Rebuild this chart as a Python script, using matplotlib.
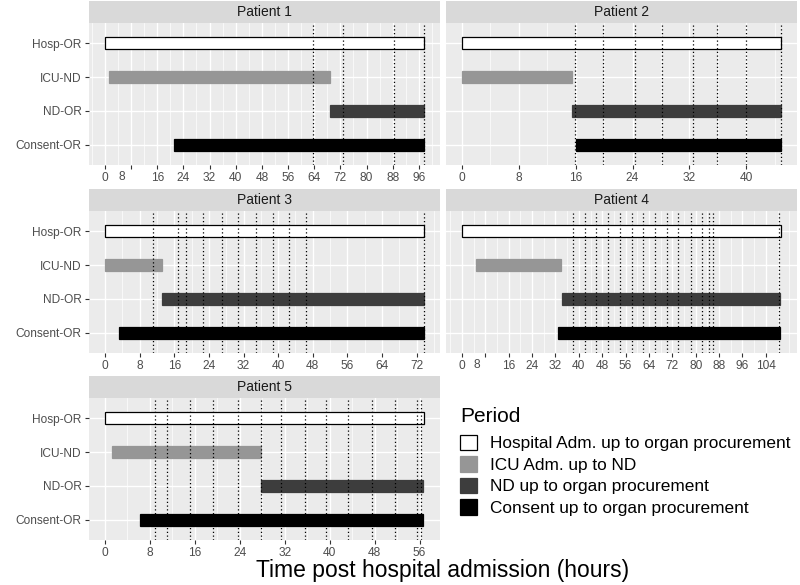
import matplotlib
matplotlib.use("Agg")
import matplotlib.pyplot as plt
from matplotlib.patches import Patch
from matplotlib.ticker import MultipleLocator
from matplotlib.transforms import blended_transform_factory, ScaledTranslation

plt.rcParams['font.family'] = ['Liberation Sans', 'DejaVu Sans']

patients = ["Patient 1", "Patient 2", "Patient 3", "Patient 4", "Patient 5"]
periods = ["Hosp-OR", "ICU-ND", "ND-OR", "Consent-OR"]
legend_labels = ["Hospital Adm. up to organ procurement", "ICU Adm. up to ND",
                 "ND up to organ procurement", "Consent up to organ procurement"]

hosp_start = [0, 0, 0, 0, 0]
hosp_end = [97.6, 44.9, 73.7, 109.2, 56.8]
icu_start = [1.3, 0, 0, 4.7, 1.3]
icu_end = [68.8, 15.5, 13.1, 33.8, 27.8]
nd_start = [68.8, 15.5, 13.1, 34.3, 27.8]
nd_end = [97.6, 44.9, 73.6, 109.0, 56.6]
consent_start = [21.1, 16.0, 3.3, 32.9, 6.2]
consent_end = [97.6, 44.9, 73.6, 109.0, 56.6]

events_p1 = [63.7, 72.9, 88.5, 97.6]
events_p2 = [15.9, 19.9, 24.3, 28.1, 32.5, 35.9, 39.9, 44.9]
events_p3 = [11.0, 16.9, 18.8, 22.7, 27.1, 30.7, 35.0, 38.7, 42.6, 46.5, 73.6]
events_p4 = [38.0, 42.1, 45.9, 50.0, 54.2, 58.2, 62.1, 66.1, 70.1, 74.1, 78.3,
             82.0, 84.5, 86.0, 108.4]
events_p5 = [8.9, 11.1, 15.2, 19.2, 23.6, 27.8, 31.4, 35.6, 39.4, 43.3, 47.5,
             51.6, 55.5, 56.2]
events = [events_p1, events_p2, events_p3, events_p4, events_p5]

fill_colors = ["#FFFFFF", "#969696", "#3D3D3D", "#000000"]
edge_colors = ["#000000", "#969696", "#3D3D3D", "#000000"]

W, H = 800, 585
fig = plt.figure(figsize=(W / 100, H / 100), dpi=100)

panel_w, panel_h, strip_h = 351, 142, 22
lefts = [89, 446, 89, 446, 89]
tops = [23, 23, 211, 211, 398]

def fig_rect(x, y, w, h):
    return [x / W, 1 - (y + h) / H, w / W, h / H]

grey_txt = "#4D4D4D"
tick_fs = 8.6
for i, name in enumerate(patients):
    ax = fig.add_axes(fig_rect(lefts[i], tops[i], panel_w, panel_h))
    ax.set_facecolor("#EBEBEB")
    starts = [hosp_start[i], icu_start[i], nd_start[i], consent_start[i]]
    ends = [hosp_end[i], icu_end[i], nd_end[i], consent_end[i]]
    ypos = list(range(len(periods)))
    ax.barh(ypos, [e - s for s, e in zip(starts, ends)], left=starts, height=0.36,
            color=fill_colors, edgecolor=edge_colors, linewidth=0.9, zorder=3)
    for ev in events[i]:
        ax.axvline(ev, color="black", linestyle=(0, (1, 2.0)), linewidth=0.9, zorder=4)
    xmax = max(hosp_end[i], max(events[i]))
    pad = 0.05 * xmax
    ax.set_xlim(-pad, xmax + pad)
    ax.set_ylim(len(periods) - 1 + 0.6, -0.6)
    ticks = list(range(0, int(xmax) + 1, 8))
    ax.set_xticks(ticks)
    ax.xaxis.set_minor_locator(MultipleLocator(4))
    ax.set_yticks(ypos)
    ax.grid(which="major", color="white", linewidth=1.0, zorder=0)
    ax.grid(which="minor", axis="x", color="white", linewidth=0.5, zorder=0)
    ax.set_axisbelow(True)
    for s in ax.spines.values():
        s.set_visible(False)
    ax.tick_params(axis="x", which="major", length=3.2, width=0.8, color="#333333",
                   labelsize=tick_fs, labelcolor=grey_txt, pad=2)
    ax.tick_params(axis="x", which="minor", length=0)
    if i in (0, 2, 4):
        ax.set_yticklabels(periods)
        ax.tick_params(axis="y", length=3.2, width=0.8, color="#333333",
                       labelsize=tick_fs, labelcolor=grey_txt, pad=2)
    else:
        ax.tick_params(axis="y", length=0, labelleft=False)
    if i in (0, 3):
        # tick label "8" is shifted left in the original
        ax.set_xticklabels(["" if t == 8 else f"{int(t)}" for t in ticks])
        tr = blended_transform_factory(ax.transData, ax.transAxes) + \
            ScaledTranslation(-9 / 100, -5.6 / 100, fig.dpi_scale_trans)
        ax.text(8, 0, "8", transform=tr, ha="center", va="top",
                fontsize=tick_fs, color=grey_txt)
    # strip
    sax = fig.add_axes(fig_rect(lefts[i], tops[i] - strip_h, panel_w, strip_h))
    sax.set_facecolor("#D9D9D9")
    sax.set_xticks([]); sax.set_yticks([])
    for s in sax.spines.values():
        s.set_visible(False)
    sax.text(0.5, 0.5, name, ha="center", va="center", fontsize=10, color="#1A1A1A",
             transform=sax.transAxes)

fig.text(443 / W, 1 - 570 / H, "Time post hospital admission (hours)",
         ha="center", va="center", fontsize=16.5, color="black")

handles = [Patch(facecolor=fc, edgecolor=("black" if k == 0 else fc), linewidth=0.9)
           for k, fc in enumerate(fill_colors)]
leg = fig.legend(handles, legend_labels, title="Period", loc="upper left",
                 bbox_to_anchor=(455 / W, 1 - 402 / H), frameon=False,
                 fontsize=12.4, title_fontsize=15, handlelength=1.0, handleheight=1.0,
                 labelspacing=0.29, handletextpad=0.75, borderaxespad=0,
                 borderpad=0.3)
leg._legend_box.align = "left"
leg._legend_box.sep = 6

fig.savefig("out.png", dpi=100)
